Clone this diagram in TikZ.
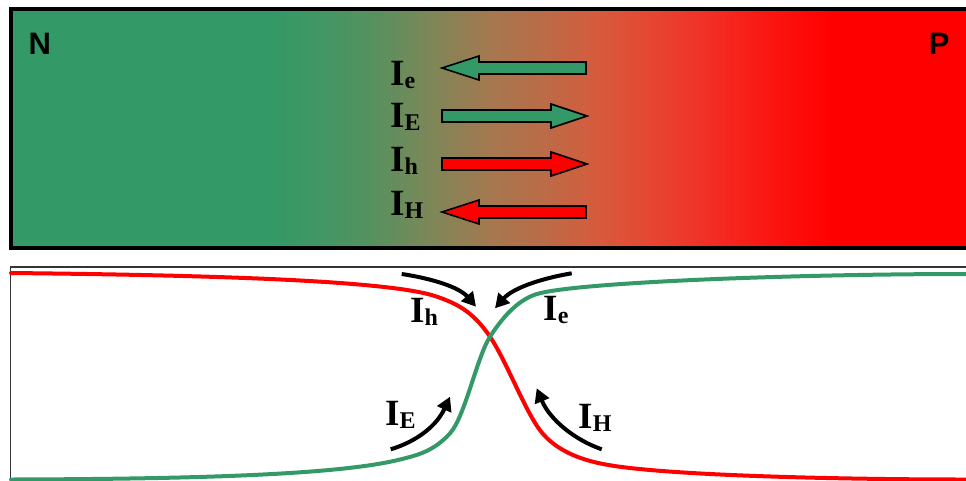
\documentclass[tikz,border=0pt]{standalone}
\usepackage{fontspec}
\setmainfont{Liberation Serif}
\newfontfamily\labsans{Liberation Sans}
\usetikzlibrary{arrows.meta}
\definecolor{pgreen}{RGB}{51,153,102}
\definecolor{pred}{RGB}{255,0,0}
\definecolor{g1}{RGB}{65,151,101}
\definecolor{g2}{RGB}{85,145,95}
\definecolor{g3}{RGB}{125,135,88}
\definecolor{g4}{RGB}{165,120,80}
\definecolor{g5}{RGB}{185,108,72}
\definecolor{g6}{RGB}{215,90,60}
\definecolor{g7}{RGB}{230,70,50}
\definecolor{g8}{RGB}{240,50,40}
\definecolor{g9}{RGB}{250,25,20}
\newcommand\curlab[1]{{\fontsize{37}{37}\selectfont\bfseries I}\raisebox{-3pt}{\fontsize{24}{24}\selectfont\bfseries #1}}
\begin{document}
\begin{tikzpicture}[x=1pt,y=-1pt,
  lab/.style={inner sep=0pt, anchor=base west},
  pnlab/.style={inner sep=0pt, anchor=base west, font=\labsans\bfseries\fontsize{31}{31}\selectfont},
  blockarrow/.style={draw=black, line width=1.6pt, line join=miter},
  bendarrow/.style={draw=black, line width=4pt, -{Triangle[length=14pt,width=15pt]}},
  curve/.style={line width=4pt, line cap=round}]
\useasboundingbox (0,0) rectangle (966,480);

% --- top bar with gradient
\fill[pgreen] (11,9) rectangle (272,248);
\foreach \xa/\ca/\xb/\cb in {270/pgreen/321/g1, 320/g1/371/g2, 370/g2/431/g3, 430/g3/491/g4, 490/g4/541/g5, 540/g5/601/g6, 600/g6/651/g7, 650/g7/701/g8, 700/g8/761/g9, 760/g9/831/pred}
  \shade[left color=\ca, right color=\cb] (\xa,9) rectangle (\xb,248);
\fill[pred] (830,9) rectangle (985,248);
\draw[line width=3.5pt] (11,9) rectangle (985,248);

\node[pnlab] (N) at (28.5,54) {N};
\node[pnlab] (P) at (928.6,54) {P};

% block arrows
\fill[pgreen, blockarrow] (586,62) -- (479,62) -- (479,56) -- (442,68) -- (479,80) -- (479,74) -- (586,74) -- cycle;
\fill[pgreen, blockarrow] (442,110) -- (551,110) -- (551,104) -- (587,116) -- (551,128) -- (551,122) -- (442,122) -- cycle;
\fill[pred, blockarrow] (442,158) -- (551,158) -- (551,152) -- (587,164) -- (551,176) -- (551,170) -- (442,170) -- cycle;
\fill[pred, blockarrow] (586,206) -- (479,206) -- (479,200) -- (442,212) -- (479,224) -- (479,218) -- (586,218) -- cycle;

\node[lab] (te) at (390,85.7) {\curlab{e}};
\node[lab] (tE) at (390,127) {\curlab{E}};
\node[lab] (th) at (390,171.7) {\curlab{h}};
\node[lab] (tH) at (390,215) {\curlab{H}};

% --- lower panel
\draw[line width=1.5pt, black!80] (10.5,267) rectangle (985,495);

\draw[curve, pred] (11,273) .. controls (200,275) and (390,280) .. (437,296.7)
  .. controls (454.7,303) and (472.3,310.2) .. (490,336.7)
  .. controls (505.7,360.2) and (521.3,401.8) .. (537,426)
  .. controls (553,450.6) and (581,459.6) .. (603,464)
  .. controls (663,476) and (850,479.5) .. (966,479.5);
\draw[curve, pgreen] (11,479.5) .. controls (200,479) and (340,474.5) .. (400,459.5)
  .. controls (416.7,455.3) and (433.3,451.7) .. (450,433.3)
  .. controls (465,416.8) and (477,356.7) .. (490,336.7)
  .. controls (505.7,312.2) and (521.3,298.7) .. (537,294)
  .. controls (577,282) and (800,274) .. (966,274);

\coordinate (ha) at (401.7,274);  \coordinate (hb) at (476,306.7);
\coordinate (ea) at (571.7,273.3); \coordinate (eb) at (495,308.3);
\coordinate (Ea) at (390.7,449.3); \coordinate (Eb) at (450,396.7);
\coordinate (Ha) at (601.7,449.3); \coordinate (Hb) at (536.7,388.3);
\draw[bendarrow] (ha) .. controls (435,279) and (460,288) .. (hb);
\draw[bendarrow] (ea) .. controls (538,279) and (512,289) .. (eb);
\draw[bendarrow] (Ea) .. controls (418,441) and (437,425) .. (Eb);
\draw[bendarrow] (Ha) .. controls (575,440) and (550,420) .. (Hb);

\node[lab] (lh) at (410,322.7) {\curlab{h}};
\node[lab] (le) at (543.3,320) {\curlab{e}};
\node[lab] (lE) at (385,425) {\curlab{E}};
\node[lab] (lH) at (578.3,428.3) {\curlab{H}};
\end{tikzpicture}
\end{document}
